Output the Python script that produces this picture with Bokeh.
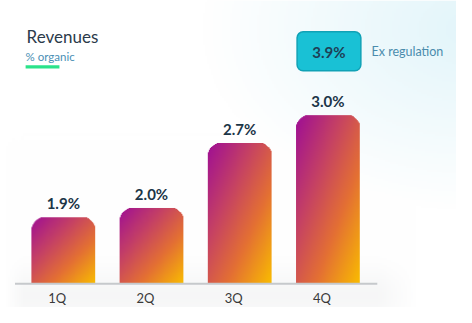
import numpy as np
from bokeh.plotting import figure
from bokeh.models import ColumnDataSource, Range1d
from bokeh.core.properties import value
from bokeh.embed import file_html
from bokeh.resources import INLINE

# ---------------- data ----------------
quarters = ["1Q", "2Q", "3Q", "4Q"]
organic_growth = [1.9, 2.0, 2.7, 3.0]
growth_labels = ["1.9%", "2.0%", "2.7%", "3.0%"]
ex_regulation_label = "3.9%"
ex_regulation_text = "Ex regulation"
title_text = "Revenues"
subtitle_text = "% organic"

# ---------------- layout ----------------
W, H = 456, 307
REF_W, REF_H = 472, 323
PX_X = 91.3          # reference px per category step
PX_Y = 97.67         # reference px per percentage point
BASE = 1.184         # value at the baseline
X0 = -65 / PX_X
Y0 = BASE - 25 / PX_Y
X1 = X0 + REF_W / PX_X
Y1 = Y0 + REF_H / PX_Y
BW = 66 / PX_X       # bar width


def sx(px):
    return X0 + px / PX_X


def sy(py):
    return Y1 - py / PX_Y


p = figure(width=W, height=H, output_backend="svg", toolbar_location=None,
           x_range=Range1d(X0, X1), y_range=Range1d(Y0, Y1), min_border=0)
p.axis.visible = False
p.grid.visible = False
p.outline_line_color = None
p.background_fill_color = "white"
p.border_fill_color = "white"

# ---------------- background ----------------
nc, nr = 236, 162
jj, ii = np.meshgrid(np.arange(nc), np.arange(nr))
px = (jj + 0.5) * REF_W / nc
py = REF_H - (ii + 0.5) * REF_H / nr
d = np.sqrt(((px - 490) / 280) ** 2 + ((py - 30) / 190) ** 2)
wb = np.clip(1 - d, 0, 1) ** 1.0
g = np.exp(-((py - 310) / 28) ** 2) * np.clip((430 - px) / 40, 0, 1) * np.clip((px - 5) / 20, 0, 1) * 0.45
white = np.array([255, 255, 255], float)
blue = np.array([226, 245, 250], float)
gray = np.array([236, 237, 238], float)
col = white[None, None, :] * (1 - wb[..., None]) + blue[None, None, :] * wb[..., None]
col = col * (1 - g[..., None]) + gray[None, None, :] * g[..., None]
bg = np.zeros((nr, nc), dtype=np.uint32)
v8 = bg.view(dtype=np.uint8).reshape((nr, nc, 4))
v8[..., 0:3] = np.clip(col, 0, 255).astype(np.uint8)
v8[..., 3] = 255
p.image_rgba(image=[bg], x=X0, y=Y0, dw=X1 - X0, dh=Y1 - Y0)

# ---------------- bars (gradient images) ----------------
stops_t = [0.0, 0.35, 0.65, 1.0]
stops_c = np.array([[158, 14, 150], [198, 66, 100], [228, 112, 52], [250, 190, 0]], float)


def grad(t):
    out = np.zeros(t.shape + (3,))
    for k in range(3):
        out[..., k] = np.interp(t, stops_t, stops_c[:, k])
    return out


S = 2
R = 15 * S
imgs, xs, ys, dws, dhs = [], [], [], [], []
for i, v in enumerate(organic_growth):
    wpx = 66 * S
    hpx = max(int(round((v - BASE) * PX_Y * S)), 2)
    cj, ci = np.meshgrid(np.arange(wpx) + 0.5, np.arange(hpx) + 0.5)
    u = cj / wpx
    vv = ci / hpx
    t = 0.5 * u + 0.5 * (1 - vv)
    c = grad(t)
    alpha = np.ones_like(u)
    top_y = hpx - R
    for cx in (R, wpx - R):
        side = (cj < R) if cx == R else (cj > wpx - R)
        in_corner = (ci > top_y) & side
        dist = np.sqrt((cj - cx) ** 2 + (ci - top_y) ** 2)
        a = np.clip(R - dist + 0.5, 0, 1)
        alpha = np.where(in_corner, a, alpha)
    img = np.zeros((hpx, wpx), dtype=np.uint32)
    im8 = img.view(dtype=np.uint8).reshape((hpx, wpx, 4))
    im8[..., 0:3] = np.clip(c, 0, 255).astype(np.uint8)
    im8[..., 3] = (alpha * 255).astype(np.uint8)
    imgs.append(img)
    xs.append(i - BW / 2)
    ys.append(BASE)
    dws.append(BW)
    dhs.append(v - BASE)
p.image_rgba(image=imgs, x=xs, y=ys, dw=dws, dh=dhs)

# baseline
p.segment(x0=[sx(15)], y0=[BASE], x1=[sx(390)], y1=[BASE],
          line_color="#c6c9cc", line_width=2)

# value labels
src = ColumnDataSource(dict(x=list(range(len(quarters))), y=organic_growth,
                            lab=growth_labels, q=quarters))
p.text(x="x", y="y", text="lab", source=src, y_offset=-14,
       text_align="center", text_baseline="middle",
       text_font=value("Lato"), text_font_style="bold", text_font_size="15px",
       text_color="#1b3547")

# category labels
p.text(x="x", y=sy(313), text="q", source=src, x_offset=-6,
       text_align="center", text_baseline="middle",
       text_font=value("Lato"), text_font_size="13px", text_color="#3a3a3a")

# title / subtitle
p.text(x=[sx(27)], y=[sy(38)], text=[title_text], text_align="left",
       text_baseline="middle", text_font=value("Lato"), text_font_size="17px",
       text_color="#2b3a4a")
p.text(x=[sx(26)], y=[sy(59)], text=[subtitle_text], text_align="left",
       text_baseline="middle", text_font=value("Lato"), text_font_size="11.5px",
       text_color="#4a8fb5")
p.quad(left=[sx(26)], right=[sx(61)], top=[sy(68)], bottom=[sy(71.5)],
       fill_color="#2be38a", line_color=None)

# ex-regulation box
p.quad(left=[sx(307)], right=[sx(373)], top=[sy(33)], bottom=[sy(74)],
       fill_color="#19c1d5", line_color="#10a2b6", line_width=1.5,
       border_radius=6)
p.text(x=[sx(340)], y=[sy(54)], text=[ex_regulation_label], text_align="center",
       text_baseline="middle", text_font=value("Lato"), text_font_style="bold",
       text_font_size="15px", text_color="#1e3f55")
p.text(x=[sx(384)], y=[sy(54)], text=[ex_regulation_text], text_align="left",
       text_baseline="middle", text_font=value("Lato"), text_font_size="12.5px",
       text_color="#4a8cad")

open("out.html", "w").write(file_html(p, INLINE))
